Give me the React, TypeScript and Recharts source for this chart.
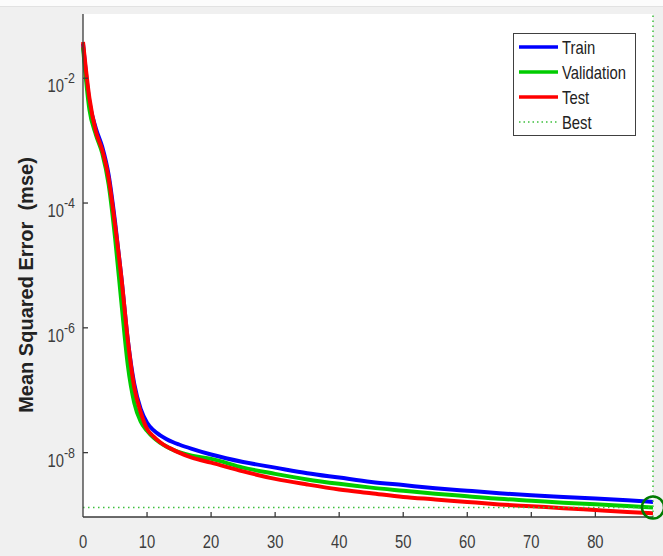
import React from "react";
import {
  LineChart,
  Line,
  XAxis,
  YAxis,
  CartesianGrid,
  ReferenceLine,
  ReferenceDot,
} from "recharts";

const epochs = [
  0, 1, 2, 3, 4, 5, 6, 7, 8, 9, 10, 11, 12, 13, 14, 15, 17, 20, 25, 30, 35,
  40, 45, 50, 55, 60, 65, 70, 75, 80, 85, 89,
];

const trainMse = [
  3.55e-2, 4.17e-3, 1.58e-3, 7.94e-4, 2.82e-4, 5.01e-5, 6.31e-6, 6.31e-7,
  1.26e-7, 5.01e-8, 3.02e-8, 2.29e-8, 1.91e-8, 1.66e-8, 1.48e-8, 1.35e-8,
  1.15e-8, 9.33e-9, 7.08e-9, 5.75e-9, 4.68e-9, 3.98e-9, 3.39e-9, 3.02e-9,
  2.69e-9, 2.45e-9, 2.24e-9, 2.07e-9, 1.95e-9, 1.84e-9, 1.72e-9, 1.62e-9,
];

const validationMse = [
  3.16e-2, 3.16e-3, 1.26e-3, 6.31e-4, 2.0e-4, 2.82e-5, 2.51e-6, 2.51e-7,
  6.31e-8, 3.16e-8, 2.24e-8, 1.74e-8, 1.45e-8, 1.26e-8, 1.12e-8, 1.02e-8,
  8.9e-9, 7.94e-9, 5.75e-9, 4.57e-9, 3.72e-9, 3.16e-9, 2.75e-9, 2.45e-9,
  2.19e-9, 2.0e-9, 1.82e-9, 1.7e-9, 1.58e-9, 1.49e-9, 1.39e-9, 1.32e-9,
];

const testMse = [
  3.8e-2, 4.8e-3, 1.41e-3, 7.08e-4, 2.51e-4, 4.47e-5, 6.31e-6, 6.31e-7,
  1.12e-7, 4.47e-8, 2.4e-8, 1.82e-8, 1.48e-8, 1.26e-8, 1.12e-8, 1.0e-8,
  8.3e-9, 6.92e-9, 5.01e-9, 3.8e-9, 3.09e-9, 2.57e-9, 2.24e-9, 1.95e-9,
  1.78e-9, 1.62e-9, 1.48e-9, 1.38e-9, 1.29e-9, 1.2e-9, 1.12e-9, 1.07e-9,
];

const bestEpoch = 89;
const bestMse = 1.32e-9;

const xTicks = [0, 10, 20, 30, 40, 50, 60, 70, 80];
const yTicks = [1e-2, 1e-4, 1e-6, 1e-8];

const series = [
  { key: "train", name: "Train", color: "#0000ff", values: trainMse },
  { key: "validation", name: "Validation", color: "#00cc00", values: validationMse },
  { key: "test", name: "Test", color: "#ff0000", values: testMse },
];

const data = epochs.map((epoch, i) => {
  const row: Record<string, number> = { epoch };
  series.forEach((s) => (row[s.key] = s.values[i]));
  return row;
});

const AXIS = "#3a3a3a";
const TEXT = "#3c3c3c";
const BEST = "#3cbf3c";
const FONT = "'Liberation Sans', Arial, sans-serif";
const SQUEEZE = 0.8; // the reference text is drawn narrow

const XTick = (props: any) => {
  const { x, y, payload } = props;
  return (
    <g>
      {payload.value !== 0 && (
        <line x1={x} y1={y} x2={x} y2={y - 5} stroke={AXIS} strokeWidth={1.3} />
      )}
      <text
        transform={`translate(${x},${y + 31}) scale(${SQUEEZE},1)`}
        textAnchor="middle"
        fill={TEXT}
        fontSize={18.5}
        fontFamily={FONT}
      >
        {payload.value}
      </text>
    </g>
  );
};

const YTick = (props: any) => {
  const { x, y, payload } = props;
  const exp = Math.round(Math.log10(payload.value));
  return (
    <g>
      <line x1={x} y1={y} x2={x + 5} y2={y} stroke={AXIS} strokeWidth={1.3} />
      <text
        transform={`translate(${x - 8},${y + 14}) scale(${SQUEEZE},1)`}
        textAnchor="end"
        fill={TEXT}
        fontSize={18.5}
        fontFamily={FONT}
      >
        10
        <tspan fontSize={15.5} dy={-9}>
          {exp}
        </tspan>
      </text>
    </g>
  );
};

const YLabel = () => (
  <text
    x={33}
    y={285}
    transform="rotate(-90, 33, 285)"
    textAnchor="middle"
    fill="#222"
    fontSize={20}
    fontWeight="bold"
    fontFamily={FONT}
    xmlSpace="preserve"
    style={{ whiteSpace: "pre" }}
  >
    {"Mean Squared Error  (mse)"}
  </text>
);

const LegendBox = () => {
  const rows = [
    ...series.map((s) => ({ name: s.name, color: s.color, dotted: false })),
    { name: "Best", color: BEST, dotted: true },
  ];
  return (
    <div
      style={{
        position: "absolute",
        left: 513,
        top: 33,
        width: 121,
        height: 101,
        background: "#fff",
        border: "1.5px solid #404040",
      }}
    >
      <svg width={121} height={101}>
        {rows.map((r, i) => (
          <g key={r.name}>
            <line
              x1={5}
              x2={44}
              y1={13 + i * 25}
              y2={13 + i * 25}
              stroke={r.color}
              strokeWidth={r.dotted ? 1.5 : 3.5}
              strokeDasharray={r.dotted ? "1.5 3" : undefined}
            />
            <text
              transform={`translate(48,${13 + i * 25 + 6.5}) scale(${SQUEEZE},1)`}
              fill="#222"
              fontSize={18.5}
              fontFamily={FONT}
            >
              {r.name}
            </text>
          </g>
        ))}
      </svg>
    </div>
  );
};

const App: React.FC = () => {
  return (
    <div
      style={{
        position: "absolute",
        left: 0,
        top: 0,
        width: 663,
        height: 556,
        background: "#f0f0f0",
        overflow: "hidden",
      }}
    >
      <div
        style={{
          position: "absolute",
          left: 0,
          top: 0,
          width: 663,
          height: 6,
          background: "#fcfcfc",
          borderBottom: "1px solid #e2e2e2",
        }}
      />
      <LineChart
        width={663}
        height={556}
        data={data}
        margin={{ top: 14, right: 10, bottom: 0, left: 0 }}
        style={{ position: "absolute", left: 0, top: 0 }}
      >
        <CartesianGrid fill="#ffffff" horizontal={false} vertical={false} stroke="none" />
        <XAxis
          dataKey="epoch"
          type="number"
          domain={[0, bestEpoch]}
          ticks={xTicks}
          interval={0}
          height={39}
          tickSize={0}
          tickMargin={0}
          tickLine={false}
          axisLine={{ stroke: AXIS, strokeWidth: 1.3 }}
          tick={<XTick />}
        />
        <YAxis
          scale="log"
          type="number"
          domain={[9.3e-10, 0.107]}
          allowDataOverflow
          ticks={yTicks}
          interval={0}
          width={83}
          tickSize={0}
          tickMargin={0}
          tickLine={false}
          axisLine={{ stroke: AXIS, strokeWidth: 1.3 }}
          tick={<YTick />}
          label={<YLabel />}
        />
        {series.map((s) => (
          <Line
            key={s.key}
            dataKey={s.key}
            name={s.name}
            stroke={s.color}
            strokeWidth={4}
            type="monotone"
            dot={false}
            isAnimationActive={false}
          />
        ))}
        <ReferenceLine
          x={bestEpoch}
          stroke={BEST}
          strokeWidth={1.5}
          strokeDasharray="1.5 3.5"
          ifOverflow="visible"
        />
        <ReferenceLine
          y={bestMse}
          stroke={BEST}
          strokeWidth={1.5}
          strokeDasharray="1.5 3.5"
          ifOverflow="visible"
        />
        <ReferenceDot
          x={bestEpoch}
          y={bestMse}
          r={11}
          fill="none"
          stroke="#007a00"
          strokeWidth={2.5}
          ifOverflow="visible"
        />
      </LineChart>
      <LegendBox />
    </div>
  );
};

export default App;
